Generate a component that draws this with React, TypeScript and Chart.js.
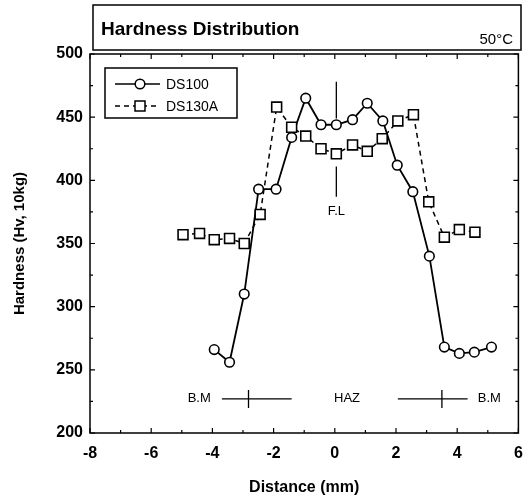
import React, { useEffect, useRef } from "react";
import { Chart, registerables } from "chart.js";

Chart.register(...registerables);

const ds100X = [-3.94, -3.44, -2.96, -2.49, -1.92, -1.41, -0.95, -0.45, 0.05, 0.58, 1.06, 1.57, 2.04, 2.55, 3.09, 3.58, 4.07, 4.56, 5.12];
const ds100Y = [266, 256, 310, 393, 393, 434, 465, 444, 444, 448, 461, 447, 412, 391, 340, 268, 263, 264, 268];
const ds130X = [-4.96, -4.42, -3.94, -3.44, -2.96, -2.44, -1.9, -1.41, -0.95, -0.45, 0.05, 0.58, 1.06, 1.55, 2.06, 2.57, 3.07, 3.58, 4.07, 4.58];
const ds130Y = [357, 358, 353, 354, 350, 373, 458, 442, 435, 425, 421, 428, 423, 433, 447, 452, 383, 355, 361, 359];

const seriesNames = ["DS100", "DS130A"];
const chartTitle = "Hardness Distribution";
const chartSubtitle = "50°C";
const xTitle = "Distance (mm)";
const yTitle = "Hardness (Hv, 10kg)";
const zoneLabels = ["B.M", "HAZ", "B.M"];
const fusionLabel = "F.L";

const FONT = "'Liberation Sans', Arial, sans-serif";

const decorPlugin = {
  id: "decor",
  afterDraw(chart: any) {
    const { ctx, chartArea: a, scales } = chart;
    const xs = scales.x;
    const ys = scales.y;
    ctx.save();
    ctx.strokeStyle = "#000";
    ctx.fillStyle = "#000";
    ctx.lineWidth = 1.5;
    // frame
    ctx.strokeRect(a.left, a.top, a.right - a.left, a.bottom - a.top);
    // inward ticks
    ctx.lineWidth = 1.2;
    for (let v = -8; v <= 6; v += 1) {
      const px = xs.getPixelForValue(v);
      const len = v % 2 === 0 ? 5 : 3;
      ctx.beginPath();
      ctx.moveTo(px, a.bottom);
      ctx.lineTo(px, a.bottom - len);
      ctx.moveTo(px, a.top);
      ctx.lineTo(px, a.top + len);
      ctx.stroke();
    }
    for (let v = 200; v <= 500; v += 25) {
      const py = ys.getPixelForValue(v);
      const len = v % 50 === 0 ? 5 : 3;
      ctx.beginPath();
      ctx.moveTo(a.left, py);
      ctx.lineTo(a.left + len, py);
      ctx.moveTo(a.right, py);
      ctx.lineTo(a.right - len, py);
      ctx.stroke();
    }
    // title box
    ctx.lineWidth = 1.5;
    ctx.strokeRect(93, 5, 428, 45);
    ctx.textBaseline = "alphabetic";
    ctx.textAlign = "left";
    ctx.font = `bold 19px ${FONT}`;
    ctx.fillText(chartTitle, 101, 35);
    ctx.textAlign = "right";
    ctx.font = `15px ${FONT}`;
    ctx.fillText(chartSubtitle, 513, 44);

    // axis titles
    ctx.textAlign = "center";
    ctx.textBaseline = "middle";
    ctx.font = `bold 16px ${FONT}`;
    ctx.fillText(xTitle, (a.left + a.right) / 2, 488);
    ctx.save();
    ctx.translate(20, (a.top + a.bottom) / 2);
    ctx.rotate(-Math.PI / 2);
    ctx.font = `bold 15px ${FONT}`;
    ctx.fillText(yTitle, 0, 0);
    ctx.restore();

    // legend
    ctx.lineWidth = 1.5;
    ctx.strokeRect(105, 68, 132, 50);
    const rows = [84, 106];
    ctx.font = `14px ${FONT}`;
    ctx.textAlign = "left";
    rows.forEach((ry, i) => {
      ctx.beginPath();
      ctx.setLineDash(i === 0 ? [] : [5, 4]);
      ctx.moveTo(115, ry);
      ctx.lineTo(160, ry);
      ctx.stroke();
      ctx.setLineDash([]);
      ctx.fillStyle = "#fff";
      ctx.beginPath();
      if (i === 0) {
        ctx.arc(140, ry, 4.8, 0, Math.PI * 2);
      } else {
        ctx.rect(135, ry - 5, 10, 10);
      }
      ctx.fill();
      ctx.stroke();
      ctx.fillStyle = "#000";
      ctx.fillText(seriesNames[i], 166, ry + 1);
    });

    // F.L annotation
    const flx = xs.getPixelForValue(0.05);
    ctx.lineWidth = 1.3;
    ctx.beginPath();
    ctx.moveTo(flx, ys.getPixelForValue(478));
    ctx.lineTo(flx, ys.getPixelForValue(449));
    ctx.moveTo(flx, ys.getPixelForValue(411));
    ctx.lineTo(flx, ys.getPixelForValue(387));
    ctx.stroke();
    ctx.font = `13px ${FONT}`;
    ctx.textAlign = "center";
    ctx.fillText(fusionLabel, flx, ys.getPixelForValue(375));

    // zone annotation
    const zy = ys.getPixelForValue(227);
    ctx.fillText(zoneLabels[0], xs.getPixelForValue(-4.43), zy);
    ctx.fillText(zoneLabels[1], xs.getPixelForValue(0.4), zy);
    ctx.fillText(zoneLabels[2], xs.getPixelForValue(5.05), zy);
    ctx.beginPath();
    ctx.moveTo(xs.getPixelForValue(-3.69), zy);
    ctx.lineTo(xs.getPixelForValue(-1.41), zy);
    ctx.moveTo(xs.getPixelForValue(-2.82), zy - 9);
    ctx.lineTo(xs.getPixelForValue(-2.82), zy + 9);
    ctx.moveTo(xs.getPixelForValue(2.06), zy);
    ctx.lineTo(xs.getPixelForValue(4.34), zy);
    ctx.moveTo(xs.getPixelForValue(3.5), zy - 9);
    ctx.lineTo(xs.getPixelForValue(3.5), zy + 9);
    ctx.stroke();
    ctx.restore();
  },
};

export default function App() {
  const ref = useRef<HTMLCanvasElement | null>(null);
  useEffect(() => {
    if (!ref.current) return;
    const chart = new Chart(ref.current, {
      type: "scatter",
      data: {
        datasets: [
          {
            label: seriesNames[1],
            data: ds130X.map((x, i) => ({ x, y: ds130Y[i] })),
            showLine: true,
            borderColor: "#000",
            borderWidth: 1.5,
            borderDash: [5, 4],
            pointStyle: "rect",
            pointRadius: 7,
            pointBorderWidth: 1.6,
            pointBackgroundColor: "#fff",
            pointBorderColor: "#000",
          },
          {
            label: seriesNames[0],
            data: ds100X.map((x, i) => ({ x, y: ds100Y[i] })),
            showLine: true,
            borderColor: "#000",
            borderWidth: 1.8,
            pointStyle: "circle",
            pointRadius: 4.8,
            pointBorderWidth: 1.6,
            pointBackgroundColor: "#fff",
            pointBorderColor: "#000",
          },
        ],
      },
      options: {
        animation: false,
        responsive: false,
        layout: { padding: { left: 0, right: 6, top: 54, bottom: 0 } },
        plugins: { legend: { display: false }, tooltip: { enabled: false } },
        scales: {
          x: {
            type: "linear",
            min: -8,
            max: 6,
            grid: { display: false, drawTicks: false },
            border: { display: false },
            ticks: {
              stepSize: 2,
              padding: 11,
              color: "#000",
              font: { family: FONT, size: 16, weight: "bold" },
            },
            afterFit: (s: any) => {
              s.height = 68;
              s.paddingLeft = 0;
              s.paddingRight = 0;
            },
          },
          y: {
            min: 200,
            max: 500,
            grid: { display: false, drawTicks: false },
            border: { display: false },
            ticks: {
              stepSize: 50,
              padding: 7,
              color: "#000",
              font: { family: FONT, size: 16, weight: "bold" },
            },
            afterFit: (s: any) => {
              s.width = 90;
              s.paddingTop = 0;
              s.paddingBottom = 0;
            },
          },
        },
      },
      plugins: [decorPlugin],
    } as any);
    return () => chart.destroy();
  }, []);
  return (
    <div style={{ position: "absolute", left: 0, top: 0, width: 527, height: 501, background: "#fff" }}>
      <canvas ref={ref} width={527} height={501} style={{ width: 527, height: 501 }} />
    </div>
  );
}
